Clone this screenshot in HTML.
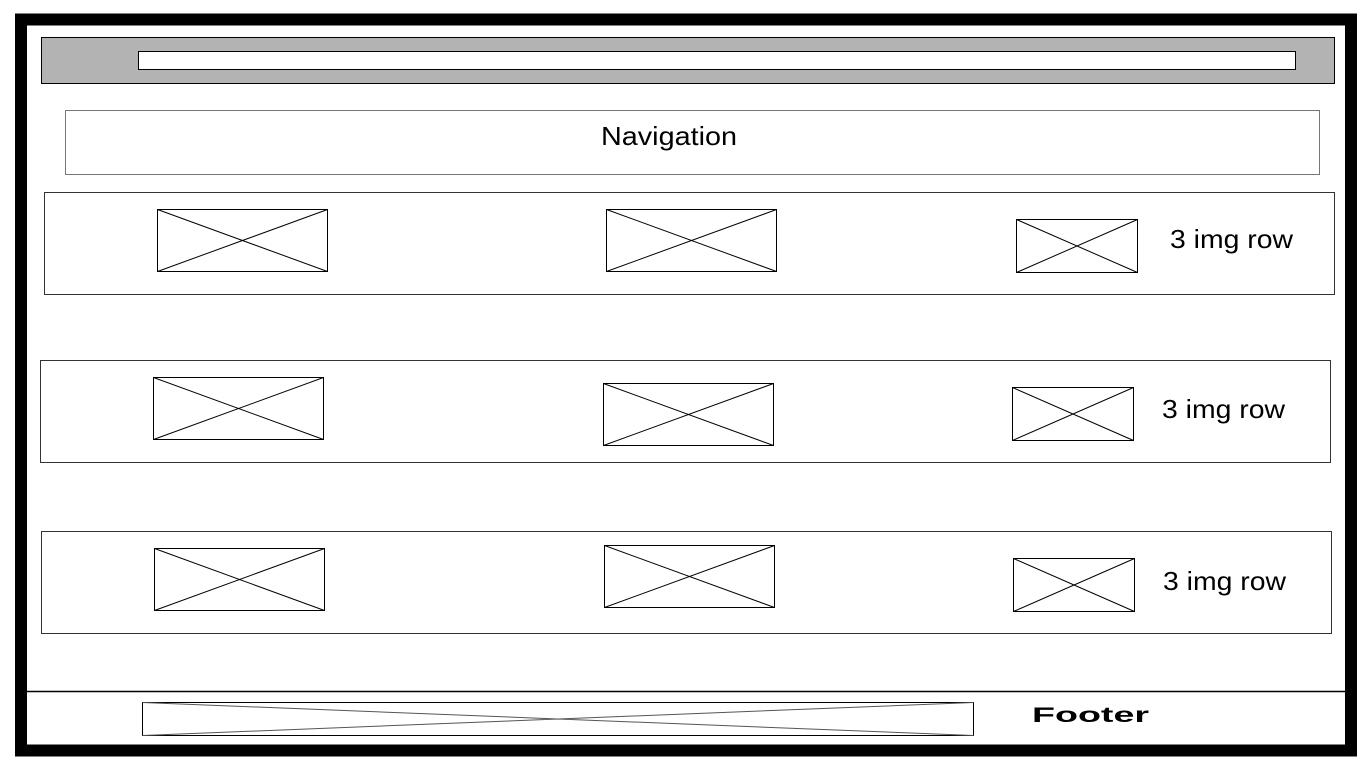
<!DOCTYPE html>
<html><head><meta charset="utf-8"><style>
html,body{margin:0;padding:0;background:#fff;}
svg{display:block;}
text{font-family:"Liberation Sans",sans-serif;}
</style></head><body>
<svg width="1366" height="768" viewBox="0 0 1366 768">
  <rect x="21" y="19.5" width="1330" height="731" fill="none" stroke="#000" stroke-width="12"/>
  <rect x="41.5" y="37.5" width="1293" height="46" fill="#b3b3b3" stroke="#000" stroke-width="1"/>
  <rect x="138.5" y="51.5" width="1157" height="18" fill="#fff" stroke="#000" stroke-width="1"/>
  <rect x="65.5" y="110.5" width="1254" height="64" fill="#fff" stroke="#777" stroke-width="1"/>
  <text x="601" y="145" font-size="26" textLength="136" lengthAdjust="spacingAndGlyphs">Navigation</text>

  <g>
    <rect x="44.5" y="192.5" width="1290" height="102" fill="none" stroke="#333"/>
    <g fill="none" stroke="#000" stroke-width="1">
      <rect x="157.5" y="209.5" width="170" height="62"/><path d="M157.5 209.5L327.5 271.5M327.5 209.5L157.5 271.5"/>
      <rect x="606.5" y="209.5" width="170" height="62"/><path d="M606.5 209.5L776.5 271.5M776.5 209.5L606.5 271.5"/>
      <rect x="1016.5" y="219.5" width="121" height="53"/><path d="M1016.5 219.5L1137.5 272.5M1137.5 219.5L1016.5 272.5"/>
    </g>
    <text x="1170" y="248" font-size="26" textLength="123" lengthAdjust="spacingAndGlyphs">3 img row</text>
  </g>
  <g>
    <rect x="40.5" y="360.5" width="1290" height="102" fill="none" stroke="#333"/>
    <g fill="none" stroke="#000" stroke-width="1">
      <rect x="153.5" y="377.5" width="170" height="62"/><path d="M153.5 377.5L323.5 439.5M323.5 377.5L153.5 439.5"/>
      <rect x="603.5" y="383.5" width="170" height="62"/><path d="M603.5 383.5L773.5 445.5M773.5 383.5L603.5 445.5"/>
      <rect x="1012.5" y="387.5" width="121" height="53"/><path d="M1012.5 387.5L1133.5 440.5M1133.5 387.5L1012.5 440.5"/>
    </g>
    <text x="1162" y="418" font-size="26" textLength="123" lengthAdjust="spacingAndGlyphs">3 img row</text>
  </g>
  <g>
    <rect x="41.5" y="531.5" width="1290" height="102" fill="none" stroke="#333"/>
    <g fill="none" stroke="#000" stroke-width="1">
      <rect x="154.5" y="548.5" width="170" height="62"/><path d="M154.5 548.5L324.5 610.5M324.5 548.5L154.5 610.5"/>
      <rect x="604.5" y="545.5" width="170" height="62"/><path d="M604.5 545.5L774.5 607.5M774.5 545.5L604.5 607.5"/>
      <rect x="1013.5" y="558.5" width="121" height="53"/><path d="M1013.5 558.5L1134.5 611.5M1134.5 558.5L1013.5 611.5"/>
    </g>
    <text x="1163" y="590" font-size="26" textLength="123" lengthAdjust="spacingAndGlyphs">3 img row</text>
  </g>

  <line x1="27" y1="691.5" x2="1345" y2="691.5" stroke="#000" stroke-width="1.5"/>
  <g fill="none" stroke="#000" stroke-width="1">
    <rect x="142.5" y="702.5" width="831" height="33"/>
    <path d="M142.5 702.5L973.5 735.5M973.5 702.5L142.5 735.5" stroke="#555"/>
  </g>
  <text x="1032" y="722" font-size="21" font-weight="bold" textLength="117" lengthAdjust="spacingAndGlyphs">Footer</text>
</svg>
</body></html>
